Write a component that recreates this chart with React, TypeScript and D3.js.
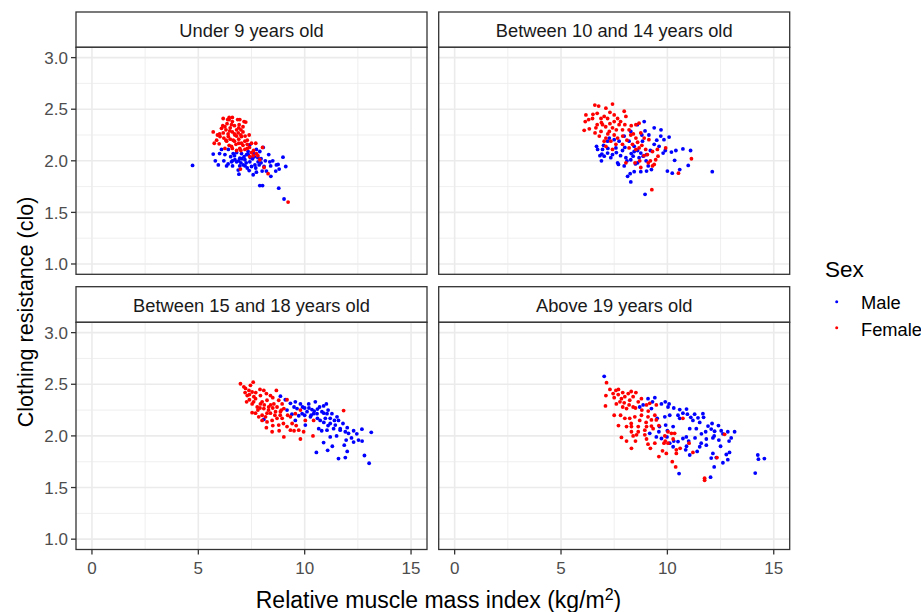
import React from "react";
import * as d3 from "d3";

type Pt = [number, number];

// ---- Data ----
const facetLabels = ["Under 9 years old", "Between 10 and 14 years old", "Between 15 and 18 years old", "Above 19 years old"];
const sexLabels = ["Male", "Female"];
const sexColors = ["#0000FF", "#FF0000"];
const xTicks = [0, 5, 10, 15];
const yTicks = [1.0, 1.5, 2.0, 2.5, 3.0];
const xMinor = [2.5, 7.5, 12.5];
const yMinor = [1.25, 1.75, 2.25, 2.75];

const under9Male: Pt[] = [
  [4.73, 1.955], [8.78, 1.735], [9.03, 1.63], [7.89, 1.76], [8.02, 1.76], [5.7, 2.065], [5.94, 1.96], [6.33, 1.95],
  [6.61, 1.95], [6.875, 1.91], [6.91, 1.87], [7.39, 1.905], [7.58, 1.865], [7.73, 1.89], [7.86, 1.96], [8.09, 1.945],
  [8.36, 1.99], [8.31, 2.06], [8.67, 1.96], [8.75, 1.965], [9.11, 1.945], [8.98, 2.035], [8.64, 1.9], [8.41, 1.85],
  [8.2, 1.9], [7.34, 2.09], [7.42, 2.155], [7.73, 2.11], [7.89, 2.09], [8.05, 2.13], [7.63, 2.04], [7.19, 2.01],
  [6.95, 2.025], [6.72, 2.01], [6.52, 2.04], [6.25, 2.06], [6.09, 2.11], [6.41, 2.11], [6.64, 2.07], [7.03, 2.07],
  [7.27, 2.06], [7.42, 1.99], [6.8, 1.99], [6.56, 1.99], [7.81, 1.99], [7.66, 1.96], [7.11, 1.96], [7.5, 1.945],
  [6.9, 2.0], [7.15, 2.04], [7.55, 2.02], [6.7, 2.05], [7.0, 1.98], [7.3, 1.93], [8.5, 2.0], [7.95, 2.02],
  [6.8, 2.08], [7.05, 2.02], [7.25, 1.98], [7.45, 2.03], [7.6, 2.07], [7.8, 2.03], [7.95, 1.98], [8.15, 2.0],
  [6.6, 2.0], [6.4, 1.97], [7.2, 1.95], [7.7, 1.93], [8.0, 1.9], [6.95, 1.95], [7.35, 2.06], [8.4, 1.95],
  [8.8, 1.92], [6.2, 2.0], [6.0, 2.07], [5.8, 2.0],
];
const under9Female: Pt[] = [
  [9.22, 1.6], [8.28, 1.875], [8.09, 1.935], [6.98, 1.92], [6.17, 2.41], [6.45, 2.42], [6.38, 2.4], [5.7, 2.28],
  [5.75, 2.17], [5.98, 2.165], [6.02, 2.235], [6.25, 2.33], [6.56, 2.35], [6.92, 2.35], [7.23, 2.375], [6.8, 2.3],
  [6.875, 2.27], [7.03, 2.235], [7.19, 2.19], [7.5, 2.17], [7.7, 2.17], [7.39, 2.25], [6.64, 2.2], [6.41, 2.235],
  [6.17, 2.27], [6.56, 2.14], [6.95, 2.12], [7.19, 2.11], [7.73, 2.07], [7.58, 2.05], [7.5, 2.08], [8.02, 2.13],
  [7.3, 2.12], [6.72, 2.25], [6.33, 2.19], [6.09, 2.315], [7.0, 2.3], [6.48, 2.29], [6.77, 2.16], [7.03, 2.17],
  [5.86, 2.2], [6.25, 2.12], [7.89, 2.01], [7.42, 2.04], [6.6, 2.38], [6.9, 2.21], [6.45, 2.15], [7.1, 2.28],
  [6.2, 2.22], [6.7, 2.26], [7.3, 2.2], [6.0, 2.26], [6.85, 2.4], [6.35, 2.36],
  [6.3, 2.3], [6.5, 2.32], [6.7, 2.34], [6.9, 2.32], [7.1, 2.33], [6.4, 2.26], [6.6, 2.28], [6.8, 2.24],
  [7.0, 2.25], [7.2, 2.24], [6.3, 2.2], [6.5, 2.21], [6.7, 2.19], [6.9, 2.17], [7.1, 2.15], [7.3, 2.16],
  [6.6, 2.12], [6.8, 2.1], [7.0, 2.1], [7.4, 2.13], [6.45, 2.4], [6.15, 2.34], [5.9, 2.25], [7.6, 2.1],
  [7.8, 2.05], [7.15, 2.38], [6.95, 2.4], [6.6, 2.42],
];
const age10to14Male: Pt[] = [
  [8.95, 1.675], [8.28, 1.795], [8.13, 1.85], [8.25, 1.875], [8.75, 1.895], [8.44, 1.895], [9.02, 1.9], [9.25, 1.915],
  [10.0, 1.9], [10.23, 1.88], [10.58, 1.915], [10.98, 1.955], [12.11, 1.895], [11.09, 2.1], [10.73, 2.115], [10.34, 2.005],
  [10.19, 2.085], [10.08, 2.23], [9.69, 2.24], [9.84, 2.205], [9.38, 2.32], [8.91, 2.38], [8.95, 2.29], [8.59, 2.35],
  [8.8, 2.25], [9.38, 2.16], [9.61, 2.14], [9.8, 2.075], [9.02, 2.06], [8.86, 2.045], [8.67, 2.03], [8.39, 2.045],
  [8.28, 2.01], [8.05, 2.03], [7.97, 1.95], [7.66, 1.98], [7.7, 1.965], [7.34, 2.03], [7.03, 2.045], [6.83, 2.05],
  [6.67, 2.14], [6.72, 2.11], [6.95, 2.11], [7.27, 2.22], [7.19, 2.19], [7.5, 2.205], [7.73, 2.19], [7.97, 2.24],
  [8.2, 2.19], [8.44, 2.14], [7.58, 2.125], [7.42, 2.06], [7.19, 2.075], [6.92, 2.065], [7.89, 2.1], [8.44, 2.09],
  [8.75, 2.075], [8.83, 2.19], [9.13, 2.25], [8.28, 2.285],
  [7.2, 2.12], [7.6, 2.08], [8.0, 2.13], [8.3, 2.07], [8.6, 2.1], [8.1, 2.0], [8.5, 1.97], [9.0, 2.0],
  [9.2, 2.1], [9.5, 2.2], [9.7, 2.3], [9.9, 2.1], [10.4, 2.1], [9.1, 1.95], [8.6, 1.98], [7.0, 2.15],
  [7.8, 2.05], [6.9, 2.0],
];
const age10to14Female: Pt[] = [
  [7.42, 2.55], [6.77, 2.53], [7.11, 2.51], [6.59, 2.54], [6.17, 2.445], [6.48, 2.41], [6.14, 2.38], [6.09, 2.295],
  [6.33, 2.31], [6.64, 2.32], [6.88, 2.41], [7.03, 2.43], [7.19, 2.41], [7.5, 2.445], [7.66, 2.41], [7.97, 2.48],
  [8.05, 2.43], [7.73, 2.35], [7.42, 2.32], [7.27, 2.285], [6.88, 2.285], [6.8, 2.24], [7.11, 2.22], [7.34, 2.19],
  [7.66, 2.22], [7.89, 2.3], [8.2, 2.3], [8.28, 2.25], [8.52, 2.35], [8.67, 2.365], [8.75, 2.27], [8.91, 2.22],
  [9.13, 2.205], [8.52, 2.22], [8.36, 2.16], [8.2, 2.125], [7.89, 2.16], [7.58, 2.16], [7.42, 2.11], [7.11, 2.14],
  [7.03, 2.19], [8.67, 2.125], [8.98, 2.11], [9.06, 2.06], [9.3, 2.09], [9.53, 2.11], [9.92, 2.125], [9.56, 2.045],
  [9.45, 2.01], [9.38, 1.965], [9.3, 1.95], [9.2, 2.0], [8.48, 1.98], [8.05, 1.98], [8.75, 1.935], [10.52, 1.88],
  [11.13, 2.02], [9.27, 1.72], [8.52, 2.11], [6.95, 2.35], [7.6, 2.3],
  [6.7, 2.35], [6.9, 2.37], [7.1, 2.33], [7.3, 2.36], [7.5, 2.38], [7.8, 2.38], [8.0, 2.35], [8.3, 2.34],
  [7.2, 2.26], [7.5, 2.25], [7.9, 2.24], [8.1, 2.2], [8.6, 2.18], [8.8, 2.15], [6.5, 2.45], [6.3, 2.4],
  [6.7, 2.46], [7.3, 2.47], [6.6, 2.27], [8.4, 2.26], [8.9, 2.05], [9.1, 1.98], [8.7, 2.0],
];
const age15to18Male: Pt[] = [
  [8.86, 2.385], [9.09, 2.35], [9.56, 2.33], [9.8, 2.31], [10.19, 2.31], [10.5, 2.33], [10.89, 2.29], [11.02, 2.31],
  [9.64, 2.265], [9.88, 2.215], [10.11, 2.235], [10.34, 2.255], [10.58, 2.215], [10.81, 2.235], [11.05, 2.215], [11.28, 2.215],
  [11.52, 2.185], [11.59, 2.15], [11.44, 2.105], [11.2, 2.12], [10.73, 2.15], [10.27, 2.185], [10.03, 2.105], [10.66, 2.07],
  [11.05, 2.055], [11.36, 2.07], [11.67, 2.055], [11.91, 2.04], [12.06, 2.025], [12.45, 2.02], [12.69, 2.065], [13.13, 2.035],
  [12.53, 1.96], [12.3, 1.94], [11.95, 1.96], [11.2, 1.99], [10.89, 1.935], [10.55, 1.84], [11.08, 1.86], [11.86, 1.91],
  [11.59, 1.78], [11.91, 1.79], [12.81, 1.81], [13.03, 1.735], [9.56, 2.15], [9.72, 2.195], [8.08, 2.16], [9.17, 2.25],
  [9.33, 2.315], [10.42, 2.215], [10.97, 2.17], [11.2, 2.17], [11.67, 2.07], [10.0, 2.27], [10.6, 2.26], [9.4, 2.21],
  [9.9, 2.28], [10.2, 2.27], [10.45, 2.24], [10.7, 2.28], [10.9, 2.22], [11.1, 2.25], [10.3, 2.2], [10.6, 2.17],
  [10.9, 2.13], [11.1, 2.1], [11.4, 2.15], [11.8, 2.12], [12.0, 2.08], [12.3, 2.05], [10.8, 2.05], [11.5, 2.0],
  [12.2, 1.98], [12.7, 1.95], [9.5, 2.28], [10.0, 2.2], [12.0, 1.85], [11.3, 1.9],
];
const age15to18Female: Pt[] = [
  [6.98, 2.505], [7.58, 2.52], [7.22, 2.46], [7.38, 2.44], [7.53, 2.425], [7.3, 2.39], [7.27, 2.33], [7.53, 2.31],
  [7.69, 2.36], [7.92, 2.39], [8.08, 2.44], [8.67, 2.44], [8.39, 2.39], [8.23, 2.345], [7.92, 2.31], [7.77, 2.28],
  [7.53, 2.225], [7.69, 2.22], [8.08, 2.265], [8.31, 2.28], [8.55, 2.31], [8.78, 2.345], [8.94, 2.31], [9.02, 2.265],
  [9.17, 2.35], [8.86, 2.235], [8.63, 2.235], [8.39, 2.22], [8.16, 2.185], [8.0, 2.15], [8.23, 2.135], [8.47, 2.15],
  [8.7, 2.17], [8.94, 2.17], [9.33, 2.185], [9.41, 2.12], [9.56, 2.215], [9.8, 2.25], [10.03, 2.15], [10.42, 2.15],
  [11.83, 2.245], [9.95, 2.04], [9.72, 2.055], [9.33, 2.055], [9.17, 2.09], [8.78, 2.105], [8.47, 2.04], [9.02, 1.99],
  [9.8, 1.97], [10.39, 2.0], [8.23, 2.22], [7.84, 2.185], [7.61, 2.38], [7.14, 2.475], [7.45, 2.49], [8.0, 2.33],
  [8.5, 2.27], [8.85, 2.2],
  [7.4, 2.4], [7.7, 2.42], [7.9, 2.45], [8.2, 2.41], [8.5, 2.37], [7.6, 2.33], [7.9, 2.27], [8.1, 2.3],
  [8.4, 2.3], [8.7, 2.28], [8.3, 2.25], [8.6, 2.2], [8.0, 2.2], [7.8, 2.25], [8.9, 2.25], [9.2, 2.2],
  [8.5, 2.1], [8.8, 2.05], [9.0, 2.12], [7.4, 2.35], [7.2, 2.42], [8.2, 2.08], [9.5, 2.05], [9.6, 2.1],
];
const above19Male: Pt[] = [
  [7.03, 2.577], [9.09, 2.36], [9.41, 2.37], [9.72, 2.31], [10.03, 2.28], [10.08, 2.31], [10.58, 2.255], [10.73, 2.22],
  [10.5, 2.2], [10.58, 2.17], [10.94, 2.21], [11.28, 2.21], [11.44, 2.175], [11.67, 2.215], [11.2, 2.15], [11.52, 2.13],
  [11.91, 2.095], [12.06, 2.066], [11.8, 2.04], [12.22, 2.045], [12.53, 2.05], [12.84, 2.04], [13.16, 2.04], [12.61, 2.02],
  [12.42, 1.96], [12.14, 1.98], [11.83, 1.97], [11.59, 1.93], [11.83, 1.91], [11.52, 1.895], [12.14, 1.83], [12.06, 1.785],
  [12.3, 1.79], [12.77, 1.82], [12.92, 1.84], [12.61, 1.74], [12.84, 1.77], [14.25, 1.815], [14.28, 1.775], [14.56, 1.78],
  [14.13, 1.64], [10.55, 1.635], [12.03, 1.6], [11.05, 1.815], [10.86, 1.865], [10.73, 1.975], [10.89, 1.99], [10.5, 1.945],
  [9.98, 1.99], [10.11, 1.93], [10.27, 1.895], [9.72, 1.975], [9.48, 1.99], [9.17, 2.025], [9.52, 2.17], [9.88, 2.185],
  [10.11, 2.2], [10.27, 2.09], [9.92, 2.105], [9.63, 2.09], [8.7, 2.28], [8.86, 2.3], [9.25, 2.265], [11.05, 2.07],
  [11.36, 2.07],
  [9.3, 2.33], [9.9, 2.33], [10.3, 2.27], [10.9, 2.26], [11.1, 2.18], [11.7, 2.18], [12.1, 2.12], [12.4, 2.1],
  [12.2, 2.0], [11.6, 2.02], [11.0, 1.95], [11.3, 1.98], [10.3, 1.95], [10.9, 1.9], [12.5, 1.9], [12.9, 1.95],
  [12.2, 1.7], [11.4, 1.85], [10.0, 2.05], [9.6, 2.04], [13.0, 1.98],
];
const above19Female: Pt[] = [
  [7.14, 2.515], [7.11, 2.39], [7.09, 2.29], [7.45, 2.41], [7.58, 2.44], [7.69, 2.4], [7.84, 2.36], [7.77, 2.33],
  [7.97, 2.32], [8.16, 2.41], [8.39, 2.38], [8.52, 2.42], [8.23, 2.345], [8.63, 2.33], [8.78, 2.36], [9.02, 2.3],
  [9.17, 2.315], [9.48, 2.3], [8.39, 2.28], [8.08, 2.265], [8.0, 2.17], [8.23, 2.17], [8.47, 2.185], [8.78, 2.2],
  [9.09, 2.185], [9.41, 2.2], [9.25, 2.155], [9.48, 2.155], [8.08, 2.09], [8.31, 2.09], [8.63, 2.09], [9.02, 2.09],
  [9.25, 2.095], [8.63, 2.04], [8.31, 2.04], [8.94, 2.055], [9.33, 2.07], [8.55, 2.01], [7.84, 1.985], [8.39, 2.0],
  [8.08, 1.95], [9.02, 1.97], [9.41, 1.93], [9.09, 1.92], [8.31, 1.88], [9.84, 1.93], [10.03, 1.93], [9.88, 2.0],
  [10.27, 1.97], [10.34, 2.025], [10.42, 1.865], [10.42, 1.83], [9.77, 1.855], [9.95, 1.83], [10.23, 1.75], [10.39, 1.7],
  [11.2, 1.84], [11.02, 1.93], [12.33, 1.79], [12.69, 2.015], [11.75, 1.59], [11.75, 1.57], [10.19, 2.025], [10.73, 2.17],
  [8.94, 2.01], [10.03, 2.04],
  [7.3, 2.45], [7.5, 2.37], [7.7, 2.45], [7.9, 2.42], [8.0, 2.38], [8.3, 2.43], [7.6, 2.31], [7.9, 2.28],
  [8.2, 2.3], [8.5, 2.27], [8.8, 2.25], [9.1, 2.24], [7.8, 2.2], [8.3, 2.12], [8.7, 2.15], [9.0, 2.13],
  [9.6, 2.1], [8.5, 1.95], [9.2, 1.88], [9.6, 1.8], [7.5, 2.2], [7.7, 2.1], [9.9, 1.95], [10.6, 1.88],
];

const facetData: Pt[][][] = [
  [under9Male, under9Female],
  [age10to14Male, age10to14Female],
  [age15to18Male, age15to18Female],
  [above19Male, above19Female],
];

// ---- Layout ----
const W = 921;
const H = 612;
const FONT = "'Liberation Sans', Arial, Helvetica, sans-serif";
const colX = [76, 438.7];
const panelW = 351;
const rows = [
  { stripTop: 12, panelTop: 47.3, panelBottom: 274.3 },
  { stripTop: 286.7, panelTop: 322.3, panelBottom: 549.5 },
];
const border = "#333333";
const gridCol = "#EBEBEB";

function Panel({ idx }: { idx: number }) {
  const col = idx % 2;
  const row = Math.floor(idx / 2);
  const x0 = colX[col];
  const r = rows[row];
  const x = d3.scaleLinear().domain([-0.75, 15.75]).range([x0, x0 + panelW]);
  const y = d3.scaleLinear().domain([0.9, 3.1]).range([r.panelBottom, r.panelTop]);
  const [pl, pr] = x.range();
  const [pb, pt] = y.range();
  return (
    <g>
      {/* strip */}
      <rect x={pl} y={r.stripTop} width={panelW} height={r.panelTop - r.stripTop} fill="#FFFFFF" stroke={border} strokeWidth={1.3} />
      <text x={(pl + pr) / 2} y={r.stripTop + 25.3} textAnchor="middle" fontFamily={FONT} fontSize={18.3} fill="#1A1A1A">
        {facetLabels[idx]}
      </text>
      {/* panel background + grid */}
      <rect x={pl} y={pt} width={panelW} height={pb - pt} fill="#FFFFFF" />
      {xMinor.map((v) => (
        <line key={"xm" + v} x1={x(v)} x2={x(v)} y1={pt} y2={pb} stroke={gridCol} strokeWidth={0.8} />
      ))}
      {yMinor.map((v) => (
        <line key={"ym" + v} x1={pl} x2={pr} y1={y(v)} y2={y(v)} stroke={gridCol} strokeWidth={0.8} />
      ))}
      {xTicks.map((v) => (
        <line key={"xM" + v} x1={x(v)} x2={x(v)} y1={pt} y2={pb} stroke={gridCol} strokeWidth={1.6} />
      ))}
      {yTicks.map((v) => (
        <line key={"yM" + v} x1={pl} x2={pr} y1={y(v)} y2={y(v)} stroke={gridCol} strokeWidth={1.6} />
      ))}
      {/* points */}
      {facetData[idx].map((pts, s) =>
        pts.map((p, i) => <circle key={s + "-" + i} cx={x(p[0])} cy={y(p[1])} r={1.9} fill={sexColors[s]} />)
      )}
      {/* border */}
      <rect x={pl} y={pt} width={panelW} height={pb - pt} fill="none" stroke={border} strokeWidth={1.3} />
      {/* y axis (left column) */}
      {col === 0 &&
        yTicks.map((v) => (
          <g key={"yt" + v}>
            <line x1={pl - 5} x2={pl} y1={y(v)} y2={y(v)} stroke={border} strokeWidth={1.3} />
            <text x={pl - 8} y={y(v)} dy="0.36em" textAnchor="end" fontFamily={FONT} fontSize={17} fill="#4D4D4D">
              {d3.format(".1f")(v)}
            </text>
          </g>
        ))}
      {/* x axis (bottom row) */}
      {row === 1 &&
        xTicks.map((v) => (
          <g key={"xt" + v}>
            <line x1={x(v)} x2={x(v)} y1={pb} y2={pb + 5} stroke={border} strokeWidth={1.3} />
            <text x={x(v)} y={pb + 24} textAnchor="middle" fontFamily={FONT} fontSize={17} fill="#4D4D4D">
              {v}
            </text>
          </g>
        ))}
    </g>
  );
}

export default function App() {
  return (
    <svg width={W} height={H} style={{ position: "absolute", left: 0, top: 0, background: "#FFFFFF" }}>
      <rect x={0} y={0} width={W} height={H} fill="#FFFFFF" />
      {[0, 1, 2, 3].map((i) => (
        <Panel key={i} idx={i} />
      ))}
      {/* axis titles */}
      <text
        transform={`translate(33,312) rotate(-90)`}
        textAnchor="middle"
        fontFamily={FONT}
        fontSize={21.5}
        fill="#000000"
      >
        Clothing resistance (clo)
      </text>
      <text x={438.5} y={608} textAnchor="middle" fontFamily={FONT} fontSize={23} fill="#000000">
        Relative muscle mass index (kg/m
        <tspan baselineShift="super" fontSize={16}>2</tspan>
        <tspan>)</tspan>
      </text>
      {/* legend */}
      <text x={825} y={276.5} fontFamily={FONT} fontSize={22.5} fill="#000000">
        Sex
      </text>
      {sexLabels.map((lab, i) => (
        <g key={lab}>
          <circle cx={836.7} cy={301.7 + i * 26} r={1.5} fill={sexColors[i]} />
          <text x={861} y={309.3 + i * 26.5} fontFamily={FONT} fontSize={18.3} fill="#000000">
            {lab}
          </text>
        </g>
      ))}
    </svg>
  );
}
